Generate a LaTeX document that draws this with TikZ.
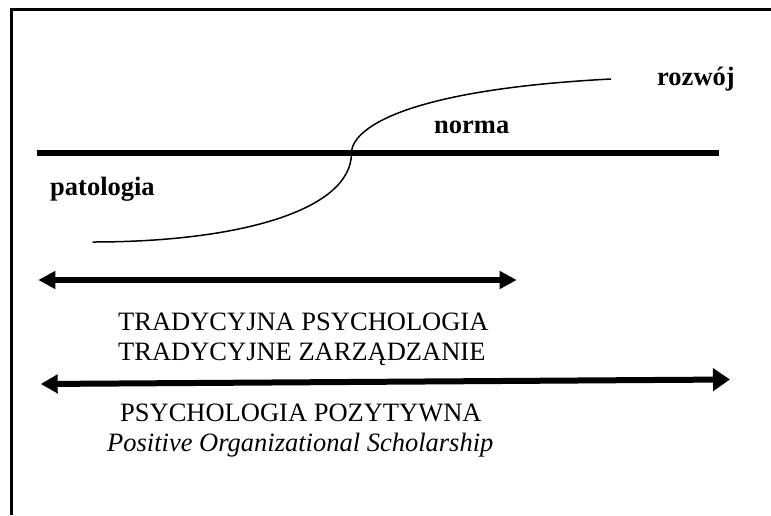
\documentclass[tikz,border=0pt]{standalone}
\usepackage{fontspec}
\setmainfont{Liberation Serif}
\usetikzlibrary{arrows.meta}
\begin{document}
\begin{tikzpicture}[x=1pt,y=-1pt,
  lbl/.style={inner sep=0pt,anchor=base west,font=\fontsize{26.5}{30}\selectfont},
  boldlbl/.style={lbl,font=\fontsize{26.5}{30}\selectfont\bfseries},
  frameline/.style={line width=2.5pt},
  axis/.style={line width=6pt},
  curveline/.style={line width=1.5pt},
  dbl/.style={line width=6pt,{Triangle[length=17pt,width=17pt]}-{Triangle[length=17pt,width=17pt]}},
  dblb/.style={line width=6pt,{Triangle[length=17pt,width=18pt]}-{Triangle[length=17pt,width=22pt]}}
]
\useasboundingbox (0,0) rectangle (771,515);
% frame (clipped at right and bottom)
\coordinate (fbl) at (11.5,515);
\coordinate (ftl) at (11.5,9.7);
\coordinate (ftr) at (771,9.7);
\draw[frameline] (fbl) -- (ftl) -- (ftr);
% axis line
\coordinate (ax1) at (37,153);
\coordinate (ax2) at (719,153);
\draw[axis] (ax1) -- (ax2);
% S curve
\coordinate (c0) at (92.5,242);
\coordinate (c1) at (351.5,153);
\coordinate (c2) at (611,79);
\draw[curveline] (c0) .. controls (240,242) and (351.5,210) .. (c1)
  .. controls (351.5,130) and (400,90) .. (c2);
% labels
\node[boldlbl] (pat) at (50,195) {patologia};
\node[boldlbl] (norm) at (434,133.3) {norma};
\node[boldlbl] (roz) at (657,85) {rozwój};
% arrows
\coordinate (a1l) at (38.3,280);
\coordinate (a1r) at (516.7,280);
\draw[dbl] (a1l) -- (a1r);
\coordinate (a2l) at (40.7,384);
\coordinate (a2r) at (730,379.5);
\draw[dblb] (a2l) -- (a2r);
% texts
\node[lbl] (t1) at (118,330) {TRADYCYJNA PSYCHOLOGIA};
\node[lbl] (t2) at (118,360) {TRADYCYJNE ZARZĄDZANIE};
\node[lbl] (t3) at (120,421.7) {PSYCHOLOGIA POZYTYWNA};
\node[lbl,font=\fontsize{26.5}{30}\selectfont\itshape] (t4) at (107,451.7) {Positive Organizational Scholarship};
\end{tikzpicture}
\end{document}
